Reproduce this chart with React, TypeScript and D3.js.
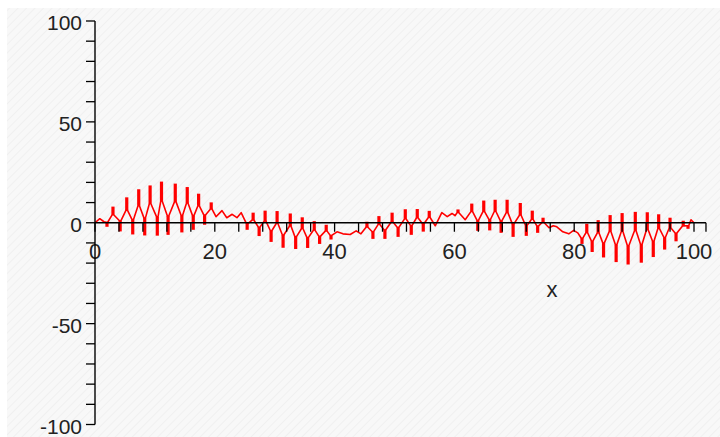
import React from "react";
import * as d3 from "d3";

// Curve vertices (x in data units, y value, bar = thick spike tip)
const curveX = [
  0, 0.8, 1.5, 2.0, 3.0, 4.2, 5.3, 6.3, 7.3, 8.3, 9.2, 10.4, 11.1, 12.2, 13.4, 14.5, 15.4, 16.4, 17.3, 18.3, 19.4,
  20.2, 21.2, 22.0, 22.9, 23.7, 24.4,
  25.4, 26.4, 27.4, 28.4, 29.4, 30.4, 31.4, 32.6, 33.5, 34.6, 35.5, 36.6, 37.5, 38.6, 39.4,
  40.4, 41.4, 42.6, 43.6, 44.4,
  45.4, 46.4, 47.4, 48.4, 49.6, 50.6, 51.8, 52.8, 53.8, 54.8, 55.8,
  56.8, 57.9, 58.8, 59.6, 60.1, 60.6, 61.8,
  62.9, 63.9, 64.9, 65.9, 66.8, 67.8, 68.8, 69.8, 71.0, 72.0, 73.0, 73.9, 74.8,
  75.8, 76.5, 77.1, 78.1, 79.1, 79.9, 80.6,
  81.3, 82.1, 83.0, 84.0, 84.9, 86.0, 87.0, 88.0, 89.0, 90.2, 91.2, 92.2, 93.2, 94.1, 95.1, 96.0, 97.0, 98.2, 99.0,
  99.5, 100,
];
const curveY = [
  0, 2, 0.5, -2, 8, -4.3, 12.6, -5.8, 16.6, -6.3, 18.5, -6.4, 20.4, -6, 19.4, -4.8, 17.7, -3.5, 14.4, -1, 10.1,
  3, 6, 2.5, 4.2, 2.5, 5,
  -3.5, 5, -6.6, 6, -9.5, 5.8, -12.4, 4.6, -13, 2.7, -12.5, 0.8, -10.5, -1, -8.3,
  -4.5, -5.5, -5.8, -4, -5.5,
  0.5, -8, 3.3, -8, 5, -7, 6.7, -6, 6.8, -4.4, 5.9,
  -1.5, 5, 3, 4.6, 3.5, 6.6, 1.5,
  9.5, -4, 11, -3.8, 11.4, -5, 11.4, -7, 9.8, -6.5, 6, -5, 2.5,
  -2.5, -1.5, -2, -4.5, -5.5, -3.8, -5,
  -10.5, -0.5, -14.5, 1.3, -17.2, 3.8, -19.5, 4.8, -20.7, 5.4, -19.8, 5.2, -17, 4.2, -13.3, 2.5, -9.2, 1, -3,
  1.5, 0,
];
const curveBar = [
  0, 0, 0, 1, 1, 1, 1, 1, 1, 1, 1, 1, 1, 1, 1, 1, 1, 1, 1, 1, 1,
  0, 0, 0, 0, 0, 0,
  1, 1, 1, 1, 1, 1, 1, 1, 1, 1, 1, 1, 1, 1, 1,
  0, 0, 0, 0, 0,
  1, 1, 1, 1, 1, 1, 1, 1, 1, 1, 1,
  0, 0, 0, 0, 0, 1, 0,
  1, 1, 1, 1, 1, 1, 1, 1, 1, 1, 1, 1, 1,
  0, 0, 0, 0, 0, 0, 0,
  1, 1, 1, 1, 1, 1, 1, 1, 1, 1, 1, 1, 1, 1, 1, 1, 1, 1, 1,
  0, 0,
];

const xTickLabels = [0, 20, 40, 60, 80, 100];
const yTickLabels = [100, 50, 0, -50, -100];

export default function App() {
  const W = 720, H = 437;
  const x = d3.scaleLinear().domain([0, 100]).range([95, 694]);
  const y = d3.scaleLinear().domain([-100, 100]).range([424.5, 21]);

  const pts: [number, number][] = [];
  const bars: { px: number; y1: number; y2: number }[] = [];
  for (let i = 0; i < curveX.length; i++) {
    const t = curveY[i];
    const px = x(curveX[i]);
    if (curveBar[i]) {
      const prev = i > 0 ? curveY[i - 1] : t;
      const next = i < curveY.length - 1 ? curveY[i + 1] : t;
      const m = (prev + next) / 2;
      const base = t + 0.36 * (m - t);
      pts.push([px - 0.7, y(base)]);
      pts.push([px + 0.7, y(base)]);
      bars.push({ px, y1: y(base), y2: y(t) });
    } else {
      pts.push([px, y(t)]);
    }
  }
  const line = d3.line<[number, number]>().x((d) => d[0]).y((d) => d[1]);

  const xTicks = d3.range(0, 101, 4);
  const yTicks = d3.range(-100, 101, 10);
  const x0 = x(0), y0 = y(0);
  const xEnd = x(102);
  const font = "'Liberation Sans', Arial, sans-serif";

  return (
    <svg width={W} height={H} style={{ position: "absolute", left: 0, top: 0, background: "#fff" }}>
      <defs>
        <pattern id="hatch" width="6" height="6" patternUnits="userSpaceOnUse" patternTransform="rotate(45)">
          <rect width="6" height="6" fill="#f8f8f8" />
          <line x1="0" y1="0" x2="0" y2="6" stroke="#f0f0f0" strokeWidth="2" />
        </pattern>
      </defs>
      <rect x={7} y={8} width={W - 7} height={H - 8} fill="url(#hatch)" />

      {/* curve */}
      <path d={line(pts) || ""} fill="none" stroke="#ff0000" strokeWidth={1.6} strokeLinejoin="round" />
      {bars.map((b, i) => (
        <line key={"b" + i} x1={b.px} y1={b.y1} x2={b.px} y2={b.y2} stroke="#ff0000" strokeWidth={3.2} />
      ))}

      {/* x axis */}
      <line x1={x0} y1={y0} x2={xEnd} y2={y0} stroke="#000" strokeWidth={1.4} />
      {xTicks.map((t) => (
        <line key={"xt" + t} x1={x(t)} y1={y0} x2={x(t)} y2={y0 + 9} stroke="#000" strokeWidth={1.3} />
      ))}
      <line x1={xEnd} y1={y0} x2={xEnd} y2={y0 + 9} stroke="#000" strokeWidth={1.3} />
      {xTickLabels.map((t) => (
        <text key={"xl" + t} x={x(t)} y={259} textAnchor="middle" fontFamily={font} fontSize={22} fill="#222">
          {t}
        </text>
      ))}
      <text x={552} y={297} textAnchor="middle" fontFamily={font} fontSize={22} fill="#222">x</text>

      {/* y axis */}
      <line x1={x0} y1={y(100)} x2={x0} y2={y(-100)} stroke="#000" strokeWidth={1.4} />
      {yTicks.map((t) => (
        <line key={"yt" + t} x1={x0 - 9} y1={y(t)} x2={x0} y2={y(t)} stroke="#000" strokeWidth={1.3} />
      ))}
      {yTickLabels.map((t) => (
        <text key={"yl" + t} x={82} y={y(t) + 1.5} textAnchor="end" dominantBaseline="central" fontFamily={font} fontSize={21} fill="#222">
          {t}
        </text>
      ))}
    </svg>
  );
}
